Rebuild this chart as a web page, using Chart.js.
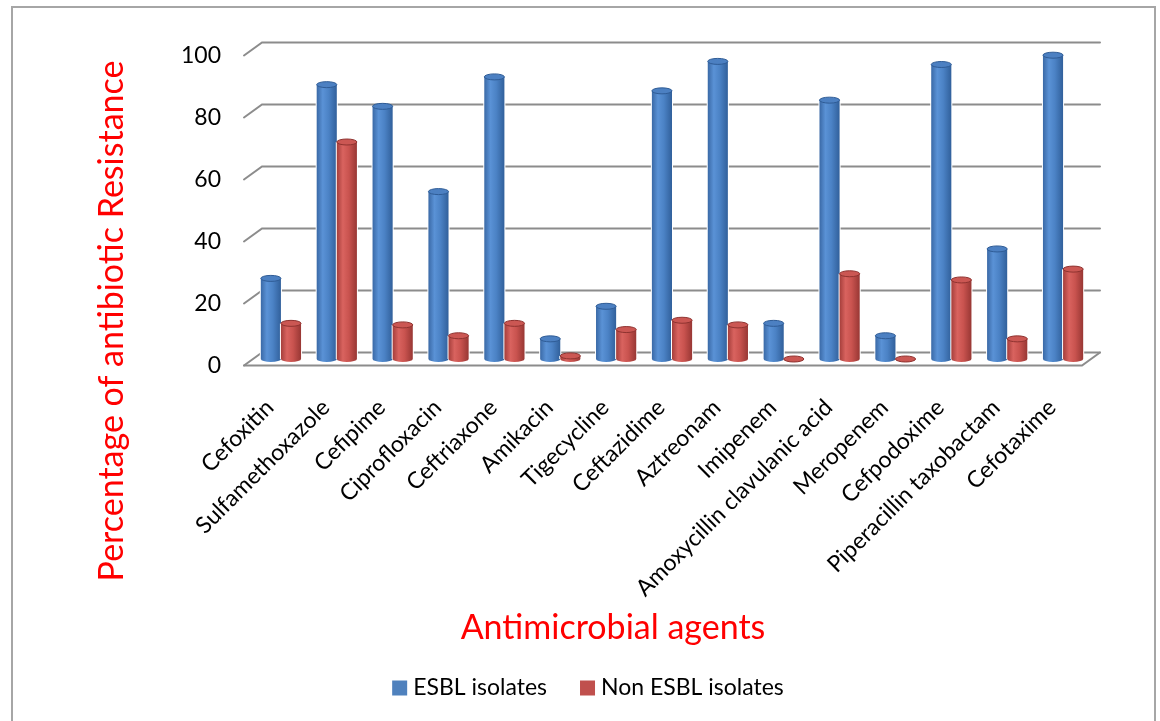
<!DOCTYPE html>
<html>
<head>
<meta charset="utf-8">
<script src="https://cdn.jsdelivr.net/npm/chart.js@4/dist/chart.umd.min.js"></script>
<style>
  html, body { margin: 0; padding: 0; background: #ffffff; }
  #wrap { position: relative; width: 1160px; height: 721px; }
</style>
</head>
<body>
<div id="wrap"><canvas id="chart"></canvas></div>
<script>
// Antimicrobial agents tested
const agents = [
  'Cefoxitin', 'Sulfamethoxazole', 'Cefipime', 'Ciprofloxacin', 'Ceftriaxone',
  'Amikacin', 'Tigecycline', 'Ceftazidime', 'Aztreonam', 'Imipenem',
  'Amoxycillin clavulanic acid', 'Meropenem', 'Cefpodoxime',
  'Piperacillin taxobactam', 'Cefotaxime'
];

// Resistance (%) per agent
const esblIsolates    = [26, 88.5, 81.5, 54, 91, 6.5, 17, 86.5, 96, 11.5, 83.5, 7.5, 95, 35.5, 98];
const nonEsblIsolates = [11.5, 70, 11, 7.5, 11.5, 1, 9.5, 12.5, 11, 0, 27.5, 0, 25.5, 6.5, 29];

const seriesNames = ['ESBL isolates', 'Non ESBL isolates'];
const yTickValues = [0, 20, 40, 60, 80, 100];
const xAxisTitle = 'Antimicrobial agents';
const yAxisTitle = 'Percentage of antibiotic Resistance';

const FONT = 'Lato, "Open Sans", sans-serif';
const DEPTH_X = 9;     // half depth of the floor, horizontal
const DEPTH_Y = 6.5;   // half depth of the floor, vertical
const CAP_RY = 3;      // cylinder cap ellipse radius
const PAD_BOTTOM = 10;
const AREA_BOTTOM = 359;

const palettes = [
  { base: '#4F81BD', stops: ['#3A69A6', '#5A92D6', '#4B82C5', '#31609B'], cap: '#4C80C2', rim: '#2F5C96' },
  { base: '#C0504D', stops: ['#A53E3B', '#D9635F', '#C9534F', '#983734'], cap: '#CB5753', rim: '#8F3330' }
];

// Outer frame and white background
const framePlugin = {
  id: 'frame',
  beforeDraw(chart) {
    const ctx = chart.ctx;
    ctx.save();
    ctx.fillStyle = '#ffffff';
    ctx.fillRect(0, 0, chart.width, chart.height);
    ctx.strokeStyle = '#A6A6A6';
    ctx.lineWidth = 2;
    ctx.strokeRect(12, 7, 1143, 730);
    ctx.restore();
  }
};

// Back wall gridlines, slanted tick marks and floor outline
const wallPlugin = {
  id: 'wall',
  beforeDatasetsDraw(chart) {
    const ctx = chart.ctx;
    const ys = chart.scales.y;
    const { left, right } = chart.chartArea;
    ctx.save();
    ctx.strokeStyle = '#8C8C8C';
    ctx.lineWidth = 2;
    ctx.lineCap = 'round';
    ys.ticks.forEach(t => {
      const p = ys.getPixelForValue(t.value);
      ctx.beginPath();
      ctx.moveTo(left - DEPTH_X, p + DEPTH_Y);
      ctx.lineTo(left + DEPTH_X, p - DEPTH_Y);
      ctx.lineTo(right + DEPTH_X, p - DEPTH_Y);
      ctx.stroke();
    });
    const p0 = ys.getPixelForValue(0);
    ctx.beginPath();
    ctx.moveTo(left - DEPTH_X, p0 + DEPTH_Y);
    ctx.lineTo(right - DEPTH_X, p0 + DEPTH_Y);
    ctx.lineTo(right + DEPTH_X, p0 - DEPTH_Y);
    ctx.stroke();
    ctx.restore();
  }
};

// Shade every bar as a cylinder with elliptical caps
const cylinderPlugin = {
  id: 'cylinders',
  afterDatasetsDraw(chart) {
    const ctx = chart.ctx;
    chart.getSortedVisibleDatasetMetas().forEach(meta => {
      const pal = palettes[meta.index % palettes.length];
      meta.data.forEach(el => {
        const { x, y, base, width } = el.getProps(['x', 'y', 'base', 'width'], true);
        const l = x - width / 2, r = x + width / 2, rx = width / 2;
        const g = ctx.createLinearGradient(l, 0, r, 0);
        g.addColorStop(0, pal.stops[0]);
        g.addColorStop(0.3, pal.stops[1]);
        g.addColorStop(0.6, pal.stops[2]);
        g.addColorStop(1, pal.stops[3]);
        ctx.save();
        ctx.fillStyle = '#ffffff';
        ctx.fillRect(l - 1, y, width + 2, base - y);
        // body with rounded bottom
        ctx.beginPath();
        ctx.moveTo(l, y);
        ctx.lineTo(l, base);
        ctx.ellipse(x, base, rx, CAP_RY, 0, Math.PI, 0, true);
        ctx.lineTo(r, y);
        ctx.closePath();
        ctx.fillStyle = g;
        ctx.fill();
        // top cap
        ctx.beginPath();
        ctx.ellipse(x, y, rx, CAP_RY, 0, 0, Math.PI * 2);
        ctx.fillStyle = pal.cap;
        ctx.fill();
        ctx.strokeStyle = pal.rim;
        ctx.lineWidth = 1;
        ctx.stroke();
        ctx.restore();
      });
    });
  }
};

// Axis titles and the legend, placed within the whole frame
const annotationPlugin = {
  id: 'annotations',
  afterDraw(chart) {
    const ctx = chart.ctx;
    ctx.save();
    ctx.fillStyle = '#FF0000';
    ctx.font = '34px ' + FONT;
    ctx.textAlign = 'center';
    ctx.textBaseline = 'middle';
    ctx.fillText(xAxisTitle, 613, 628);
    ctx.translate(112, 321);
    ctx.rotate(-Math.PI / 2);
    ctx.fillText(yAxisTitle, 0, 0);
    ctx.restore();

    // legend
    ctx.save();
    ctx.font = '23px ' + FONT;
    ctx.textBaseline = 'middle';
    ctx.textAlign = 'left';
    const box = 15, gapText = 6, gapItem = 33, cy = 688, center = 588;
    const items = chart.data.datasets.map((ds, i) => ({
      text: ds.label, color: palettes[i].base, w: ctx.measureText(ds.label).width
    }));
    const total = items.reduce((s, it) => s + box + gapText + it.w, 0) + gapItem * (items.length - 1);
    let x = center - total / 2;
    items.forEach(it => {
      ctx.fillStyle = it.color;
      ctx.fillRect(x, cy - box / 2, box, box);
      x += box + gapText;
      ctx.fillStyle = '#000000';
      ctx.fillText(it.text, x, cy);
      x += it.w + gapItem;
    });
    ctx.restore();
  }
};

new Chart(document.getElementById('chart'), {
  type: 'bar',
  data: {
    labels: agents,
    datasets: [
      { label: seriesNames[0], data: esblIsolates, backgroundColor: palettes[0].base, borderWidth: 0,
        categoryPercentage: 0.72, barPercentage: 1.0 },
      { label: seriesNames[1], data: nonEsblIsolates, backgroundColor: palettes[1].base, borderWidth: 0,
        categoryPercentage: 0.72, barPercentage: 1.0 }
    ]
  },
  options: {
    responsive: true,
    maintainAspectRatio: false,
    animation: false,
    devicePixelRatio: 1,
    layout: { padding: { left: 12, right: 69, top: 49, bottom: PAD_BOTTOM } },
    plugins: {
      tooltip: { enabled: false },
      legend: { display: false }
    },
    scales: {
      x: {
        grid: { display: false, drawTicks: false },
        border: { display: false },
        ticks: {
          color: '#000000',
          font: { family: FONT, size: 23 },
          minRotation: 45,
          maxRotation: 45,
          autoSkip: false,
          padding: 35,
          labelOffset: -11
        },
        afterFit(scale) {
          scale.height = scale.chart.height - PAD_BOTTOM - AREA_BOTTOM;
        }
      },
      y: {
        min: 0,
        max: 100,
        afterBuildTicks(scale) {
          scale.ticks = yTickValues.map(v => ({ value: v }));
        },
        grid: { display: false, drawTicks: false },
        border: { display: false },
        ticks: {
          color: '#000000',
          font: { family: FONT, size: 23 },
          padding: 32,
          labelOffset: DEPTH_Y
        },
        afterFit(scale) {
          scale.width = 241;
        }
      }
    }
  },
  plugins: [framePlugin, wallPlugin, cylinderPlugin, annotationPlugin]
});
</script>
</body>
</html>
